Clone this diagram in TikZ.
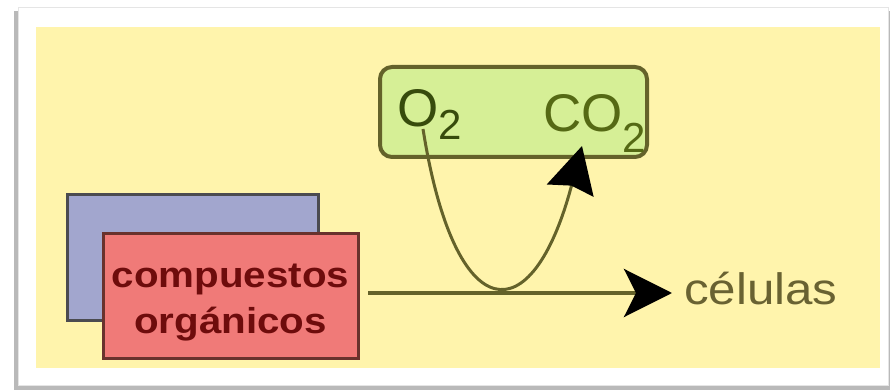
\documentclass[tikz,border=0pt]{standalone}
\usepackage{fontspec}
\setmainfont{Liberation Sans}
\newfontfamily\widefont[FakeStretch=1.12]{Liberation Sans}
\usetikzlibrary{arrows.meta}
\definecolor{bgyellow}{RGB}{255,244,172}
\definecolor{gasfill}{RGB}{214,239,150}
\definecolor{olive}{RGB}{100,98,42}
\definecolor{gastext}{RGB}{55,75,12}
\definecolor{redfill}{RGB}{240,122,120}
\definecolor{redtext}{RGB}{110,12,12}
\definecolor{bluefill}{RGB}{162,166,206}
\definecolor{celtext}{RGB}{105,98,50}
\tikzset{
  boxbase/.style={draw, line width=3pt, inner sep=0pt, outer sep=0pt},
  bluebox/.style={boxbase, draw={rgb,255:red,75;green,75;blue,80}, fill=bluefill},
  redbox/.style={boxbase, draw={rgb,255:red,105;green,50;blue,45}, fill=redfill},
  redlabel/.style={inner sep=0pt, text=redtext, align=center,
    font=\widefont\bfseries\fontsize{36}{46}\selectfont},
  gasbox/.style={boxbase, draw=olive, line width=4pt, fill=gasfill, rounded corners=12pt},
  gaslabel/.style={inner sep=0pt, anchor=base west, text=gastext, font=\fontsize{53}{53}\selectfont},
  flow/.style={draw=olive, line width=4pt},
}
\begin{document}
\begin{tikzpicture}[x=1pt,y=-1pt]
\useasboundingbox (0,0) rectangle (892,390);
\fill[white] (0,0) rectangle (892,390);
% frame with shadow
\fill[gray!55] (14,11) rectangle (890,390);
\fill[white] (18,7) rectangle (888,385);
\draw[gray!20, line width=0.8pt] (18,7) rectangle (888,385);
\fill[bgyellow] (36,27) rectangle (880,368);
% organic compound boxes
\node[bluebox, minimum width=251pt, minimum height=125pt] (back) at (192.5,257.5) {};
\node[redbox, minimum width=255pt, minimum height=125pt] (org) at (230.5,296) {};
\node[redlabel] (orgtext) at (230.5,303) {compuestos\\orgánicos};
% gas box
\node[gasbox, minimum width=267pt, minimum height=90pt] (gas) at (513.5,112) {};
\node[gaslabel] (o2) at (397,127) {O\raisebox{-13pt}{\fontsize{42}{42}\selectfont 2}};
\node[gaslabel, text={rgb,255:red,85;green,105;blue,20}] (co2) at (543,132) {CO\raisebox{-21pt}{\fontsize{42}{42}\selectfont 2}};
% cells label
\node[inner sep=0pt, anchor=base west, text=celtext] (cel) at (684,305)
  {\widefont\fontsize{44}{44}\selectfont células};
% connectors
\coordinate (start) at (368,293);
\coordinate (end) at (672,293);
\coordinate (o2foot) at (423,129);
\coordinate (co2foot) at (582,146);
\draw[flow, -{Stealth[length=48pt, width=48pt, inset=12pt, color=black]}] (start) -- (end);
\draw[olive, line width=3pt, -{Stealth[length=46pt, width=48pt, inset=5pt, color=black]}]
  (o2foot) .. controls (455,330) and (532,335) .. (co2foot);
\end{tikzpicture}
\end{document}
